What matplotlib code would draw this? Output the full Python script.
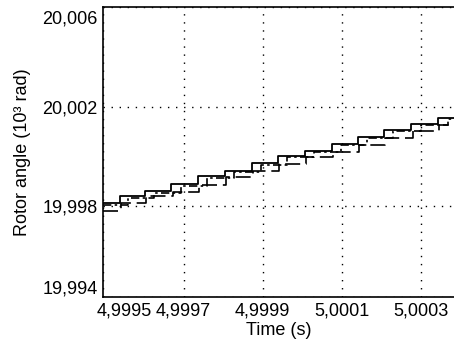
import matplotlib
matplotlib.use("Agg")
import matplotlib.pyplot as plt
import matplotlib.transforms as mtransforms

plt.rcParams['font.family'] = ['Liberation Sans', 'DejaVu Sans']

# axis range
t_min, t_max = 4.999496, 5.000384
v_min, v_max = 19.99430, 20.00606

# solid series (step changes, 'post')
solid_t = [4.999496, 4.999538, 4.999601, 4.999669, 4.999736, 4.999804, 4.999873,
           4.999939, 5.000006, 5.000075, 5.000141, 5.000206, 5.000276, 5.000344, 5.000384]
solid_v = [19.99811, 19.99841, 19.99858, 19.99888, 19.99919, 19.99942, 19.99974,
           20.00001, 20.00021, 20.00051, 20.00078, 20.00108, 20.00130, 20.00157, 20.00157]

# long dashed series
dash_t = [4.999496, 4.999541, 4.999604, 4.999672, 4.999739, 4.999807, 4.999876,
          4.999942, 5.000009, 5.000078, 5.000144, 5.000209, 5.000279, 5.000347, 5.000384]
dash_v = [19.99780, 19.99811, 19.99838, 19.99855, 19.99885, 19.99916, 19.99940,
          19.99970, 19.99998, 20.00018, 20.00048, 20.00075, 20.00105, 20.00127, 20.00127]

# dash-dot series
dd_t = [4.999496, 4.999560, 4.999625, 4.999692, 4.999760, 4.999828, 4.999896,
        4.999962, 5.000030, 5.000098, 5.000165, 5.000230, 5.000300, 5.000368, 5.000384]
dd_v = [19.99803, 19.99833, 19.99853, 19.99882, 19.99913, 19.99937, 19.99967,
        19.99996, 20.00017, 20.00046, 20.00074, 20.00104, 20.00126, 20.00153, 20.00153]

x_ticks = [t_min, 4.9997, 4.9999, 5.0001, 5.0003]
x_labels = ['4,9995', '4,9997', '4,9999', '5,0001', '5,0003']
y_ticks = [v_min, 19.998, 20.002, v_max]
y_labels = ['19,994', '19,998', '20,002', '20,006']

fig = plt.figure(figsize=(4.54, 3.45), dpi=100)
ax = fig.add_axes([0.227, 0.139, 0.773, 0.841])

ax.step(dash_t, dash_v, where='post', color='black', lw=1.2, linestyle=(0, (9, 3.5)))
ax.step(dd_t, dd_v, where='post', color='black', lw=1.2, linestyle=(0, (5, 2, 1.5, 2)))
ax.step(solid_t, solid_v, where='post', color='black', lw=1.3)

ax.set_xlim(t_min, t_max)
ax.set_ylim(v_min, v_max)

ax.set_xticks(x_ticks)
ax.set_xticklabels(x_labels)
ax.set_yticks(y_ticks)
ax.set_yticklabels(y_labels)
ax.tick_params(length=0, labelsize=13, pad=4)

# first / last labels sit inside the frame
lbls = ax.get_xticklabels()
lbls[0].set_horizontalalignment('left')
lbls[0].set_transform(lbls[0].get_transform() +
                      mtransforms.ScaledTranslation(-6 / 100, 0, fig.dpi_scale_trans))
ylbls = ax.get_yticklabels()
ylbls[0].set_verticalalignment('bottom')
ylbls[-1].set_verticalalignment('top')
ylbls[-1].set_transform(ylbls[-1].get_transform() +
                        mtransforms.ScaledTranslation(0, -4 / 100, fig.dpi_scale_trans))

ax.grid(True, color='black', lw=1.0, linestyle=(0, (1, 4.8)))

for s in ['left', 'bottom', 'top']:
    ax.spines[s].set_linewidth(1.2)
ax.spines['right'].set_visible(False)

ax.set_xlabel('Time (s)', fontsize=13, labelpad=2)
ax.set_ylabel('Rotor angle (10\u00b3 rad)', fontsize=13, labelpad=8)

fig.savefig('out.png', dpi=100)
